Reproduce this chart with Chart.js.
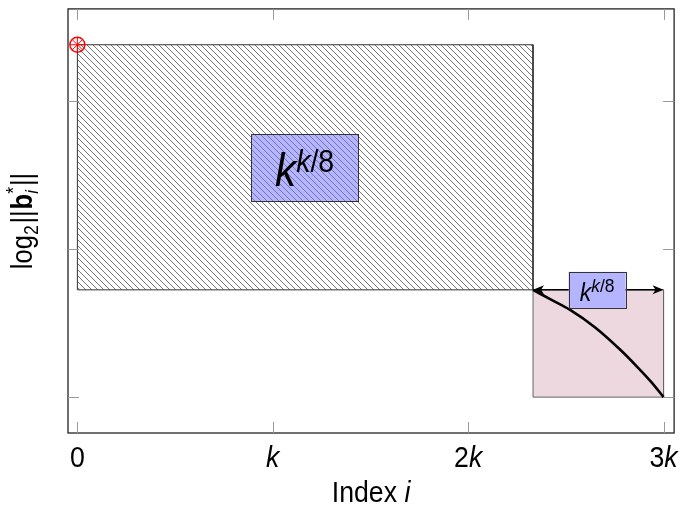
<!DOCTYPE html>
<html>
<head>
<meta charset="utf-8">
<script src="https://cdn.jsdelivr.net/npm/chart.js@4.4.0/dist/chart.umd.min.js"></script>
<style>
  html, body { margin: 0; padding: 0; background: #fff; }
  #wrap { width: 683px; height: 505px; position: relative; }
</style>
</head>
<body>
<div id="wrap"><canvas id="chart"></canvas></div>
<script>
// tick positions (in multiples of k) and their labels
const xTickValues = [0, 1, 2, 3];
const xTickLabels = ["0", "k", "2k", "3k"];
const yTickValues = [0, 1, 2];

// hatched block (head of the basis)
const blockX = [0, 2.332];
const blockY = [0.724, 2.378];

// pink block (tail)
const tailX = [2.332, 3];
const tailY = [0, 0.724];

// profile of the tail
const curveX = [2.332, 2.41, 2.52, 2.65, 2.78, 2.87, 2.94, 3.0];
const curveY = [0.724, 0.668, 0.59, 0.47, 0.318, 0.198, 0.098, 0];

// first vector
const markerX = [0];
const markerY = [2.378];

// k^{k/8} labels, centres
const labelX = [1.163, 2.66];
const labelY = [1.55, 0.724];

const FONT = '"Liberation Sans", Arial, sans-serif';
const SQUEEZE = 0.92; // the reference glyphs are a bit narrower than Arial
const font = (size, style) => (style || "") + " " + size + "px " + FONT;

// hatch pattern (north west lines)
const makeHatch = () => {
  const s = 6;
  const c = document.createElement("canvas");
  c.width = s; c.height = s;
  const g = c.getContext("2d");
  g.strokeStyle = "#777";
  g.lineWidth = 1;
  for (let k = -1; k <= 1; k++) {
    g.beginPath();
    g.moveTo(k * s, 0);
    g.lineTo(k * s + s, s);
    g.stroke();
  }
  return g.createPattern(c, "repeat");
};

const rectPoints = (xs, ys) => [
  { x: xs[0], y: ys[1] }, { x: xs[1], y: ys[1] },
  { x: xs[1], y: ys[0] }, { x: xs[0], y: ys[0] },
  { x: xs[0], y: ys[1] }
];

// text made of runs with different styles
const layoutRuns = (ctx, runs) => {
  let cx = 0, prevStart = 0, prevW = 0;
  runs.forEach(r => {
    ctx.font = font(r.size, r.style);
    r.w = ctx.measureText(r.text).width;
    if (r.back) {
      r.x = prevStart;
      cx = prevStart + Math.max(prevW, r.w);
    } else {
      r.x = cx;
      cx += r.w;
    }
    cx += r.gap || 0;
    prevStart = r.x; prevW = r.w;
  });
  return cx;
};

const drawRuns = (ctx, runs, x, y, sq) => {
  const w = layoutRuns(ctx, runs);
  ctx.save();
  ctx.translate(x, y);
  ctx.scale(sq || 1, 1);
  runs.forEach(r => {
    ctx.font = font(r.size, r.style);
    ctx.fillText(r.text, r.x - w / 2, r.dy || 0);
  });
  ctx.restore();
};

// "2k" -> upright digits, italic k
const tickRuns = (label) => {
  const runs = [];
  const digits = label.replace("k", "");
  if (digits) runs.push({ text: digits, size: 29 });
  if (label.includes("k")) runs.push({ text: "k", size: 29, style: "italic" });
  return runs;
};

const decorations = {
  id: "decorations",
  afterDatasetsDraw(chart) {
    const ctx = chart.ctx;
    const xs = chart.scales.x, ys = chart.scales.y;
    const a = chart.chartArea;

    // double arrow over the tail
    const ay = ys.getPixelForValue(tailY[1]);
    const ax0 = xs.getPixelForValue(tailX[0]);
    const ax1 = xs.getPixelForValue(tailX[1]);
    ctx.save();
    ctx.strokeStyle = "#000";
    ctx.fillStyle = "#000";
    ctx.lineWidth = 1.5;
    ctx.beginPath();
    ctx.moveTo(ax0 + 6, ay);
    ctx.lineTo(ax1 - 6, ay);
    ctx.stroke();
    [[ax0, 1], [ax1, -1]].forEach(([px, d]) => {
      ctx.beginPath();
      ctx.moveTo(px, ay);
      ctx.lineTo(px + d * 11, ay - 4.5);
      ctx.lineTo(px + d * 8, ay);
      ctx.lineTo(px + d * 11, ay + 4.5);
      ctx.closePath();
      ctx.fill();
    });

    // k^{k/8} boxes
    const boxes = [
      { w: 107, h: 67, fill: "rgba(110,110,255,0.5)", base: 46, sup: 31, dy: 19, sdy: -14 },
      { w: 57, h: 36, fill: "rgb(180,180,255)", base: 25, sup: 19, dy: 11.5, sdy: -9 }
    ];
    boxes.forEach((b, i) => {
      const cx = xs.getPixelForValue(labelX[i]);
      const cy = ys.getPixelForValue(labelY[i]);
      ctx.fillStyle = b.fill;
      ctx.fillRect(cx - b.w / 2, cy - b.h / 2, b.w, b.h);
      ctx.strokeStyle = "#333";
      ctx.lineWidth = 1;
      ctx.strokeRect(Math.round(cx - b.w / 2) + 0.5, Math.round(cy - b.h / 2) + 0.5, b.w, b.h);
      ctx.fillStyle = "#000";
      ctx.textBaseline = "alphabetic";
      drawRuns(ctx, [
        { text: "k", size: b.base, style: "italic" },
        { text: "k", size: b.sup, style: "italic", dy: b.sdy },
        { text: "/8", size: b.sup, dy: b.sdy }
      ], cx, cy + b.dy, SQUEEZE);
    });

    // frame
    ctx.strokeStyle = "#111";
    ctx.lineWidth = 1.2;
    ctx.strokeRect(a.left, a.top, a.right - a.left, a.bottom - a.top);

    // inward ticks on every side
    ctx.strokeStyle = "#999";
    ctx.lineWidth = 1;
    const t = 11;
    xTickValues.forEach(v => {
      const px = Math.round(xs.getPixelForValue(v)) + 0.5;
      ctx.beginPath();
      ctx.moveTo(px, a.bottom); ctx.lineTo(px, a.bottom - t);
      ctx.moveTo(px, a.top); ctx.lineTo(px, a.top + t);
      ctx.stroke();
    });
    yTickValues.forEach(v => {
      const py = Math.round(ys.getPixelForValue(v)) + 0.5;
      ctx.beginPath();
      ctx.moveTo(a.left, py); ctx.lineTo(a.left + t, py);
      ctx.moveTo(a.right, py); ctx.lineTo(a.right - t, py);
      ctx.stroke();
    });

    // tick labels
    ctx.fillStyle = "#000";
    ctx.textBaseline = "alphabetic";
    xTickValues.forEach((v, i) => {
      drawRuns(ctx, tickRuns(xTickLabels[i]), xs.getPixelForValue(v), 467, SQUEEZE);
    });

    // axis titles
    drawRuns(ctx, [
      { text: "Index ", size: 29 },
      { text: "i", size: 29, style: "italic" }
    ], (a.left + a.right) / 2, 502, SQUEEZE);

    ctx.translate(32, 221);
    ctx.rotate(-Math.PI / 2);
    drawRuns(ctx, [
      { text: "log", size: 29 },
      { text: "2", size: 20, dy: 6, gap: 2 },
      { text: "||", size: 29, gap: 1 },
      { text: "b", size: 29, style: "bold" },
      { text: "*", size: 20, dy: -12 },
      { text: "i", size: 19, style: "italic", dy: 6, back: true, gap: 1 },
      { text: "||", size: 29 }
    ], 0, 0, 0.88);
    ctx.restore();
  }
};

const ctx = document.getElementById("chart").getContext("2d");

new Chart(ctx, {
  type: "scatter",
  data: {
    datasets: [
      {
        data: markerX.map((x, i) => ({ x, y: markerY[i] })),
        pointStyle: "circle",
        pointRadius: 7.5,
        borderColor: "#ff0000",
        backgroundColor: "rgba(0,0,0,0)",
        borderWidth: 1.4,
        order: 0
      },
      {
        data: markerX.map((x, i) => ({ x, y: markerY[i] })),
        pointStyle: "star",
        pointRadius: 7.5,
        borderColor: "#ff0000",
        borderWidth: 1,
        order: 0
      },
      {
        data: curveX.map((x, i) => ({ x, y: curveY[i] })),
        showLine: true,
        borderColor: "#000",
        borderWidth: 2.6,
        pointRadius: 0,
        tension: 0.3,
        order: 1
      },
      {
        data: rectPoints(tailX, tailY),
        showLine: true,
        fill: "shape",
        backgroundColor: "rgb(236,216,222)",
        borderColor: "#666",
        borderWidth: 1,
        pointRadius: 0,
        order: 2
      },
      {
        data: rectPoints(blockX, blockY),
        showLine: true,
        fill: "shape",
        backgroundColor: makeHatch(),
        borderColor: "#333",
        borderWidth: 1,
        pointRadius: 0,
        order: 3
      }
    ]
  },
  options: {
    responsive: true,
    maintainAspectRatio: false,
    animation: false,
    events: [],
    layout: { padding: { top: 7, right: 6, left: 0, bottom: 0 } },
    plugins: { legend: { display: false }, tooltip: { enabled: false } },
    scales: {
      x: {
        type: "linear",
        min: -0.048,
        max: 3.054,
        grid: { display: false },
        border: { display: false },
        ticks: { display: false },
        afterFit: (s) => { s.height = 72; }
      },
      y: {
        type: "linear",
        min: -0.242,
        max: 2.62,
        grid: { display: false },
        border: { display: false },
        ticks: { display: false },
        afterFit: (s) => { s.width = 68; }
      }
    }
  },
  plugins: [decorations]
});
</script>
</body>
</html>
